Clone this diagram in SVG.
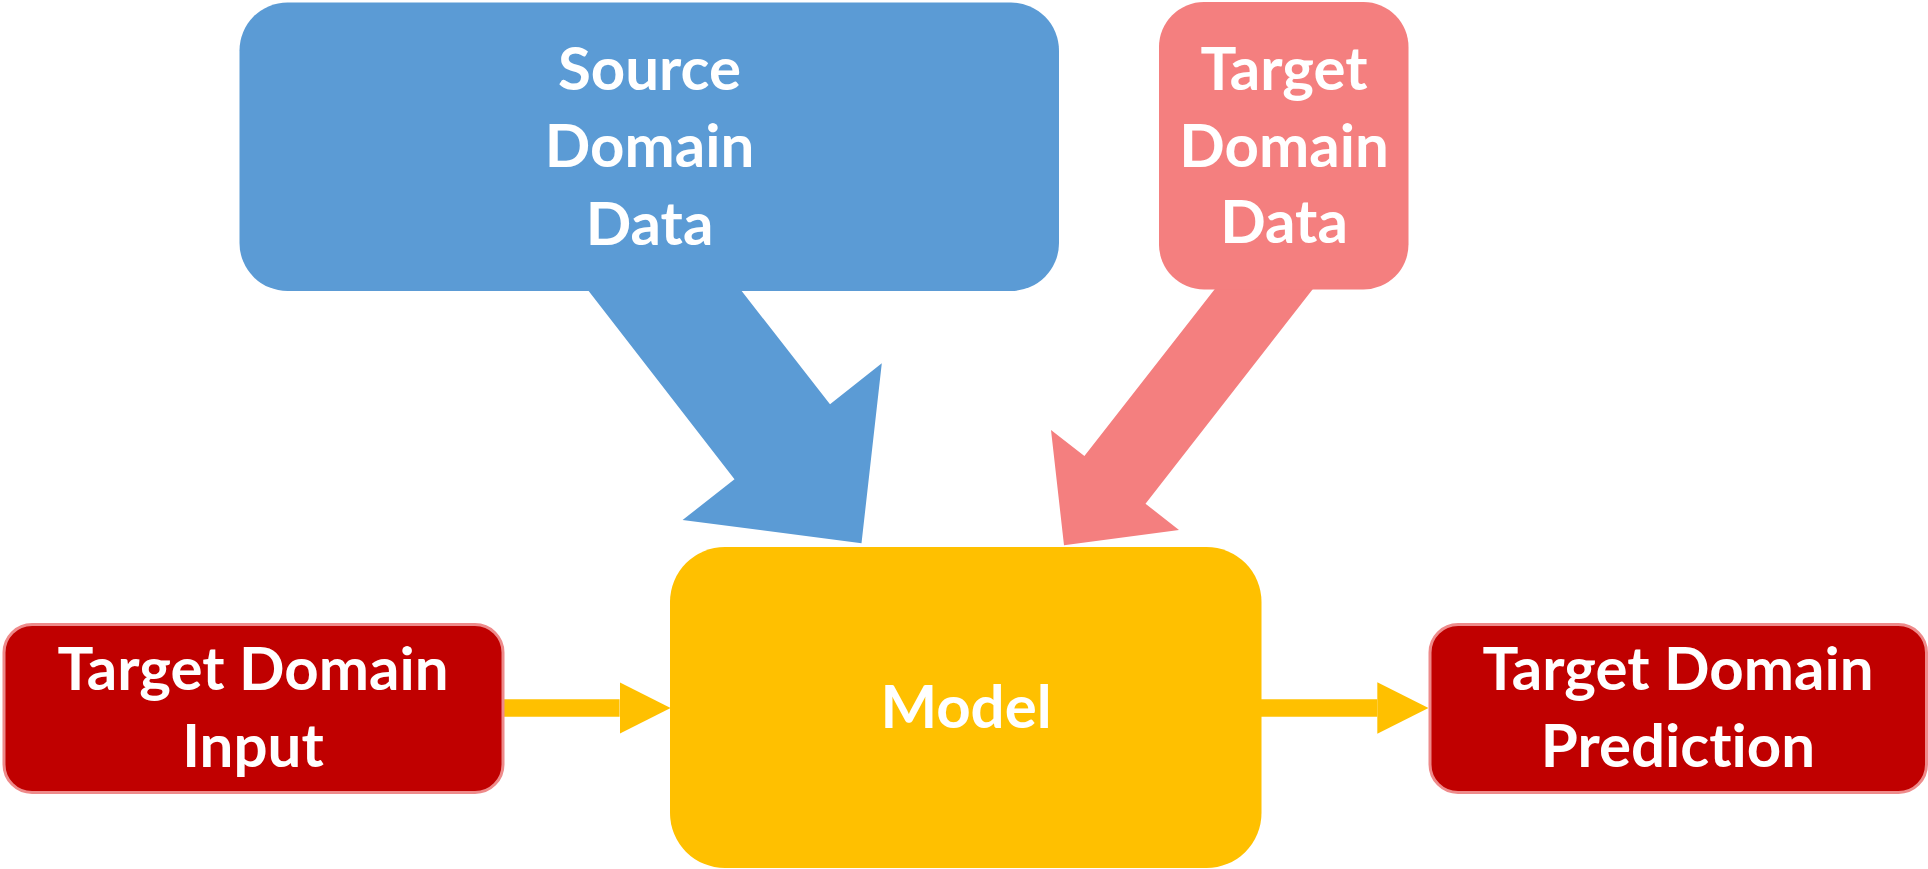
<svg xmlns="http://www.w3.org/2000/svg" width="1928" height="869" viewBox="0 0 1928 869">
<style>
.lbl{font-family:Lato,"Open Sans","Liberation Sans",sans-serif;font-weight:bold;font-size:60px;fill:#ffffff;text-anchor:middle;font-variant-ligatures:none;font-feature-settings:"liga" 0,"clig" 0}
.src{fill:#5B9BD5}
.tgt{fill:#F47F7F}
.model{fill:#FFC000}
.red{fill:#C00000;stroke:#EE8A8A;stroke-width:3}
.flow{stroke:#FFC000;stroke-width:17.4;fill:none}
</style>
<defs>
<marker id="head" markerUnits="userSpaceOnUse" viewBox="0 0 51 51.3" refX="0" refY="25.65" markerWidth="51" markerHeight="51.3" orient="auto">
<path d="M0,0 L51,25.65 L0,51.3 Z" fill="#FFC000"/>
</marker>
</defs>
<g id="connectors">
<polygon class="src" points="584,285 734.5,479.3 682.6,520 861.5,543.3 881.8,363.3 830,404.3 737,285"/>
<polygon class="tgt" points="1218,285 1084.4,456 1051,430 1064,545.3 1179,530 1145.5,503.7 1316,285"/>
<path class="flow" d="M503,708 L619.6,708" marker-end="url(#head)"/>
<path class="flow" d="M1261,708 L1377.3,708" marker-end="url(#head)"/>
</g>
<g id="source-domain-data">
<rect class="src" x="239.5" y="2.5" width="819.5" height="288.5" rx="48" ry="48"/>
<text class="lbl" x="649.5" y="90">Source</text>
<text class="lbl" x="649.5" y="167">Domain</text>
<text class="lbl" x="649.5" y="245">Data</text>
</g>
<g id="target-domain-data">
<rect class="tgt" x="1159" y="2" width="249.5" height="287.5" rx="45" ry="45"/>
<text class="lbl" x="1284" y="90">Target</text>
<text class="lbl" x="1284" y="167">Domain</text>
<text class="lbl" x="1284" y="243">Data</text>
</g>
<g id="model">
<rect class="model" x="670" y="547" width="591.5" height="321" rx="55" ry="55"/>
<text class="lbl" x="966" y="728">Model</text>
</g>
<g id="target-domain-input">
<rect class="red" x="4" y="624.5" width="499" height="168" rx="28" ry="28"/>
<text class="lbl" x="253" y="690">Target Domain</text>
<text class="lbl" x="253" y="767">Input</text>
</g>
<g id="target-domain-prediction">
<rect class="red" x="1430" y="624.5" width="496.5" height="168" rx="28" ry="28"/>
<text class="lbl" x="1678" y="690">Target Domain</text>
<text class="lbl" x="1678" y="767">Prediction</text>
</g>
</svg>
